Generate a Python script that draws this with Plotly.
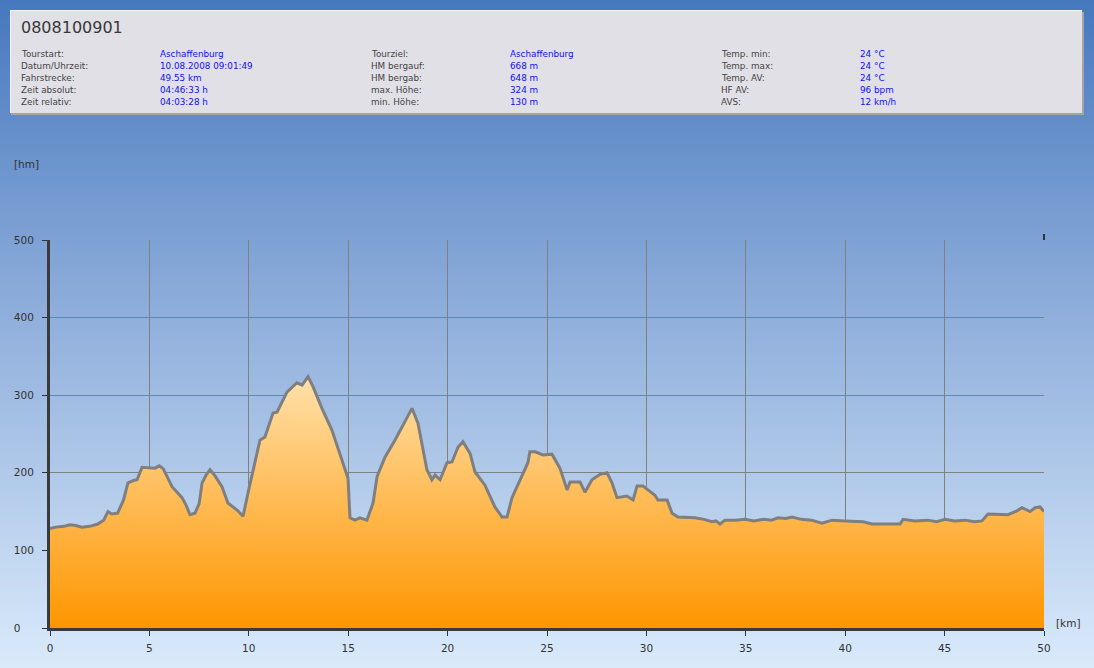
import plotly.graph_objects as go

# ---------------- data ----------------
km = [0, 0.3, 0.7, 1.0, 1.3, 1.6, 2.0, 2.4, 2.7, 2.92, 3.1, 3.4, 3.7, 3.92, 4.2, 4.38,
      4.63, 5.0, 5.28, 5.5, 5.7, 6.14, 6.4, 6.64, 6.85, 7.04, 7.29, 7.5, 7.65, 7.85,
      8.05, 8.3, 8.65, 8.95, 9.41, 9.71, 9.96, 10.31, 10.56, 10.81, 11.22, 11.42,
      11.92, 12.42, 12.68, 12.98, 13.23, 13.68, 14.18, 14.69, 14.99, 15.09, 15.34,
      15.59, 15.94, 16.25, 16.45, 16.85, 17.35, 18.21, 18.51, 18.96, 19.21, 19.37,
      19.62, 19.97, 20.22, 20.52, 20.77, 21.13, 21.38, 21.88, 22.38, 22.74, 22.99,
      23.24, 23.64, 24.04, 24.14, 24.4, 24.8, 25.25, 25.65, 26.01, 26.16, 26.66,
      26.91, 27.26, 27.67, 28.02, 28.27, 28.52, 29.02, 29.33, 29.53, 29.83, 30.08,
      30.43, 30.58, 31.04, 31.29, 31.59, 32.44, 32.9, 33.3, 33.5, 33.7, 33.95, 34.5,
      34.96, 35.4, 35.9, 36.3, 36.62, 37.0, 37.32, 37.8, 38.3, 38.83, 39.34, 39.99,
      40.9, 41.35, 42.76, 42.91, 43.5, 44.16, 44.6, 45.02, 45.5, 46.03, 46.5, 46.88,
      47.18, 48.19, 48.39, 48.64, 48.89, 49.3, 49.55, 49.8, 50.0]
hm = [128, 130, 131, 133, 132, 130, 131, 134, 139, 150, 147, 148, 165, 187, 190, 191,
      207, 206, 206, 209, 205, 182, 174, 168, 158, 146, 148, 160, 187, 197,
      204, 196, 182, 161, 152, 144, 174, 216, 242, 246, 277, 278,
      304, 316, 313, 324, 311, 283, 255, 216, 193, 142, 139,
      142, 139, 161, 195, 220, 242, 283, 264, 204, 191, 197,
      191, 213, 214, 233, 240, 225, 201, 184, 156, 143, 143,
      168, 191, 213, 227, 227, 223, 224, 206, 178, 188, 188,
      175, 191, 198, 200, 187, 168, 170, 165, 183, 183, 178,
      171, 165, 165, 148, 143, 142, 140, 137, 138, 134, 139, 139,
      140, 138, 140, 139, 142, 141, 143, 140, 139, 135, 139, 138,
      137, 134, 134, 140, 138, 139, 137, 140, 138, 139, 137, 138,
      147, 146, 148, 151, 155, 150, 155, 156, 150]

x_ticks = [0, 5, 10, 15, 20, 25, 30, 35, 40, 45, 50]
y_ticks = [0, 100, 200, 300, 400, 500]
y_ticktext = ["0\u2007\u2007", "100", "200", "300", "400", "500"]

title_text = "0808100901"
col1_labels = ["Tourstart:", "Datum/Uhrzeit:", "Fahrstrecke:", "Zeit absolut:", "Zeit relativ:"]
col1_values = ["Aschaffenburg", "10.08.2008 09:01:49", "49.55 km", "04:46:33 h", "04:03:28 h"]
col2_labels = ["Tourziel:", "HM bergauf:", "HM bergab:", "max. Höhe:", "min. Höhe:"]
col2_values = ["Aschaffenburg", "668 m", "648 m", "324 m", "130 m"]
col3_labels = ["Temp. min:", "Temp. max:", "Temp. AV:", "HF AV:", "AVS:"]
col3_values = ["24 °C", "24 °C", "24 °C", "96 bpm", "12 km/h"]

# ---------------- geometry helpers ----------------
W, H = 1094, 668
L, R, T, B = 50, 1044, 240, 628


def px(x):
    return (x - L) / (R - L)


def py(y):
    return (B - y) / (B - T)


def lerp(c1, c2, t):
    return "rgb(%d,%d,%d)" % tuple(round(a + (b - a) * t) for a, b in zip(c1, c2))


FONT = "DejaVu Sans"

fig = go.Figure()
fig.add_trace(go.Scatter(
    x=km, y=hm, mode="lines", fill="tozeroy",
    line=dict(color="#7f7f7f", width=3),
    fillgradient=dict(type="vertical", start=0, stop=330,
                      colorscale=[[0, "#ff9600"], [0.5, "#ffbb55"], [1, "#ffe2ad"]]),
    hoverinfo="skip", showlegend=False,
))

shapes = []
# background gradient bands
top_c = (70, 120, 190)
mid_c = (140, 172, 218)
bot_c = (218, 234, 251)
step = 4
for y0 in range(0, H, step):
    t = (y0 + step / 2) / H
    if t < 0.45:
        col = lerp(top_c, mid_c, t / 0.45)
    else:
        col = lerp(mid_c, bot_c, (t - 0.45) / 0.55)
    shapes.append(dict(type="rect", xref="paper", yref="paper", layer="below",
                       x0=px(0), x1=px(W), y0=py(y0 + step + 0.5), y1=py(y0),
                       fillcolor=col, line=dict(width=0)))

# header panel
shapes.append(dict(type="rect", xref="paper", yref="paper", layer="above",
                   x0=px(11), x1=px(1084), y0=py(115), y1=py(12),
                   fillcolor="#a5a5a8", line=dict(width=0)))
shapes.append(dict(type="rect", xref="paper", yref="paper", layer="above",
                   x0=px(10), x1=px(1082), y0=py(113), y1=py(10),
                   fillcolor="#f4f4f6", line=dict(width=0)))
shapes.append(dict(type="rect", xref="paper", yref="paper", layer="above",
                   x0=px(11), x1=px(1082), y0=py(113), y1=py(11),
                   fillcolor="#e1e0e6", line=dict(width=0)))
# right-top dark tick
shapes.append(dict(type="line", xref="paper", yref="paper", layer="above",
                   x0=1, x1=1, y0=1, y1=py(234),
                   line=dict(color="#333333", width=2)))

annotations = []
annotations.append(dict(text=title_text, xref="paper", yref="paper", x=px(19), y=py(28),
                        xanchor="left", yanchor="middle", showarrow=False,
                        font=dict(family=FONT, size=16, color="#383838")))
rows_y = [54, 66, 78, 90, 102]
cols = [(19, 158, col1_labels, col1_values),
        (369, 508, col2_labels, col2_values),
        (719, 858, col3_labels, col3_values)]
for lx, vx, labs, vals in cols:
    for yy, lab, val in zip(rows_y, labs, vals):
        annotations.append(dict(text=lab, xref="paper", yref="paper", x=px(lx), y=py(yy),
                                xanchor="left", yanchor="middle", showarrow=False,
                                font=dict(family=FONT, size=8.8, color="#444444")))
        annotations.append(dict(text=val, xref="paper", yref="paper", x=px(vx), y=py(yy),
                                xanchor="left", yanchor="middle", showarrow=False,
                                font=dict(family=FONT, size=8.8, color="#1010ee")))
annotations.append(dict(text="[hm]", xref="paper", yref="paper", x=px(12), y=py(164),
                        xanchor="left", yanchor="middle", showarrow=False,
                        font=dict(family=FONT, size=10.5, color="#333333")))
annotations.append(dict(text="[km]", xref="paper", yref="paper", x=px(1054), y=py(623),
                        xanchor="left", yanchor="middle", showarrow=False,
                        font=dict(family=FONT, size=10.5, color="#333333")))

fig.update_layout(
    width=W, height=H,
    margin=dict(l=L, r=W - R, t=T, b=H - B, pad=0),
    paper_bgcolor="rgba(0,0,0,0)", plot_bgcolor="rgba(0,0,0,0)",
    shapes=shapes, annotations=annotations,
    font=dict(family=FONT, size=10.5, color="#333333"),
    xaxis=dict(range=[0, 50], tickvals=x_ticks, ticktext=[str(v) for v in x_ticks],
               showgrid=True, gridcolor="#808080", gridwidth=1, zeroline=False,
               showline=True, linecolor="#3a3a3a", linewidth=3,
               ticks="outside", ticklen=5, tickwidth=1, tickcolor="#333333",
               ticklabelstandoff=3,
               tickfont=dict(family=FONT, size=10.5, color="#333333"), fixedrange=True),
    yaxis=dict(range=[0, 500], tickvals=y_ticks, ticktext=y_ticktext,
               showgrid=True, gridcolor="#808080", gridwidth=1, zeroline=False,
               showline=True, linecolor="#3a3a3a", linewidth=3,
               ticks="outside", ticklen=5, tickwidth=1, tickcolor="#333333",
               ticklabelstandoff=6,
               tickfont=dict(family=FONT, size=10.5, color="#333333"), fixedrange=True),
)

fig.write_html("out.html", config={"displayModeBar": False},
               post_script="document.body.style.margin='0';document.body.style.padding='0';"
                           "document.body.style.overflow='hidden';")
